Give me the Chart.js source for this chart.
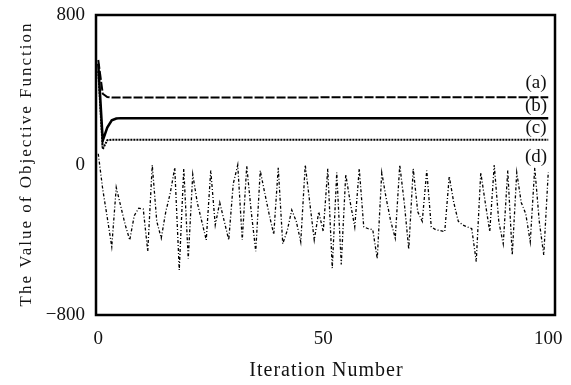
<!DOCTYPE html>
<html>
<head>
<meta charset="utf-8">
<script src="https://cdn.jsdelivr.net/npm/chart.js@4.4.1/dist/chart.umd.min.js"></script>
<style>
html,body{margin:0;padding:0;background:#fff;}
#wrap{width:571px;height:385px;}
</style>
</head>
<body>
<div id="wrap"><canvas id="c" width="571" height="385"></canvas></div>
<script>
// ---- data ----
const iterations = Array.from({length:101},(_,i)=>i);
const seriesNames = ['(a)','(b)','(c)','(d)'];
const seriesA = [560,380,362,360,360,360,360,360,360,360,360,360,360,360,360,360,360,360,360,360,360,360,360,360,360,360,360,360,360,360,360,360,360,360,360,360,360,360,360,360,360,360,360,360,360,360,360,360,360,360,362,362,362,362,362,362,362,362,362,362,362,362,362,362,362,362,362,362,362,362,362,362,362,362,362,362,362,362,362,362,362,362,362,362,362,362,362,362,362,362,362,362,362,362,362,362,362,362,362,362,362];
const seriesB = [540,130,200,238,248,250,250,250,250,250,250,250,250,250,250,250,250,250,250,250,250,250,250,250,250,250,250,250,250,250,250,250,250,250,250,250,250,250,250,250,250,250,250,250,250,250,250,250,250,250,250,250,250,250,250,250,250,250,250,250,250,250,250,250,250,250,250,250,250,250,250,250,250,250,250,250,250,250,250,250,250,250,250,250,250,250,250,250,250,250,250,250,250,250,250,250,250,250,250,250,250];
const seriesC = [500,85,132,135,135,135,135,135,135,135,135,135,135,135,135,135,135,135,135,135,135,135,135,135,135,135,135,135,135,135,135,135,135,135,135,135,135,135,135,135,135,135,135,135,135,135,135,135,135,135,135,135,135,135,135,135,135,135,135,135,135,135,135,135,135,135,135,135,135,135,135,135,135,135,135,135,135,135,135,135,135,135,135,135,135,135,135,135,135,135,135,135,135,135,135,135,135,135,135,135,135];
const seriesD = [60,-130,-280,-435,-120,-220,-320,-400,-270,-230,-235,-460,0,-300,-390,-250,-150,-15,-560,-20,-500,-50,-200,-300,-400,-30,-320,-200,-300,-400,-100,0,-400,-5,-250,-460,-30,-150,-265,-370,-15,-420,-350,-240,-300,-410,0,-200,-400,-250,-355,-20,-550,-40,-530,-50,-200,-330,-20,-330,-340,-345,-500,-40,-180,-300,-390,0,-200,-450,-20,-250,-300,-30,-330,-345,-350,-355,-60,-200,-300,-320,-330,-340,-515,-40,-200,-355,0,-300,-420,-30,-480,-40,-200,-260,-410,-15,-300,-480,-40];
const xTicks = [0,50,100];
const yTicks = [-800,0,800];
const yTickLabels = ['\u2212800','0','800'];
const xTitle = 'Iteration Number';
const yTitle = 'The Value of Objective Function';

const pts = arr => arr.map((v,i)=>({x:iterations[i], y:v}));
const SERIF = '"Liberation Serif","DejaVu Serif",serif';

const framePlugin = {
  id:'frame',
  afterDraw(chart){
    const {ctx, chartArea:a} = chart;
    ctx.save();
    ctx.strokeStyle = '#000';
    ctx.lineWidth = 2.5;
    ctx.strokeRect(a.left, a.top, a.right-a.left, a.bottom-a.top);
    // series labels
    ctx.fillStyle = '#111';
    ctx.font = '19px ' + SERIF;
    ctx.textAlign = 'center';
    ctx.textBaseline = 'middle';
    const lx = a.right - 19;
    const lys = [83,106,128,157];
    seriesNames.forEach((n,i)=>ctx.fillText(n, lx, lys[i]));
    // axis titles
    ctx.font = '20px ' + SERIF;
    ctx.letterSpacing = '1px';
    ctx.fillText(xTitle, (a.left+a.right)/2 + 1, 371);
    ctx.translate(27, (a.top+a.bottom)/2);
    ctx.rotate(-Math.PI/2);
    ctx.font = '17px ' + SERIF;
    ctx.letterSpacing = '2px';
    ctx.fillText(yTitle, 1, 0);
    ctx.restore();
  }
};

new Chart(document.getElementById('c'), {
  type:'line',
  data:{
    datasets:[
      {label:seriesNames[0], data:pts(seriesA), borderColor:'#000', borderWidth:2, borderDash:[9,2]},
      {label:seriesNames[1], data:pts(seriesB), borderColor:'#000', borderWidth:2.5},
      {label:seriesNames[2], data:pts(seriesC), borderColor:'#000', borderWidth:2, borderDash:[2,1]},
      {label:seriesNames[3], data:pts(seriesD), borderColor:'#000', borderWidth:1.3, borderDash:[3,2,1,2]}
    ]
  },
  options:{
    responsive:false,
    animation:false,
    events:[],
    elements:{point:{radius:0}, line:{tension:0, fill:false}},
    layout:{padding:{left:0, right:16, top:15, bottom:0}},
    plugins:{legend:{display:false}, tooltip:{enabled:false}},
    scales:{
      x:{
        type:'linear', min:-0.5, max:101.5,
        grid:{display:false, drawTicks:false}, border:{display:false},
        afterBuildTicks(s){ s.ticks = xTicks.map(v=>({value:v})); },
        afterFit(s){ s.height = 70; s.paddingLeft = 0; s.paddingRight = 0; },
        ticks:{padding:13, color:'#111', font:{family:SERIF, size:19}, maxRotation:0, autoSkip:false}
      },
      y:{
        type:'linear', min:-800, max:800,
        grid:{display:false, drawTicks:false}, border:{display:false},
        afterBuildTicks(s){ s.ticks = yTicks.map(v=>({value:v})); },
        afterFit(s){ s.width = 96; s.paddingTop = 0; s.paddingBottom = 0; },
        ticks:{padding:11, color:'#111', font:{family:SERIF, size:19}, autoSkip:false,
          callback:(v)=>yTickLabels[yTicks.indexOf(v)]}
      }
    }
  },
  plugins:[framePlugin]
});
</script>
</body>
</html>
